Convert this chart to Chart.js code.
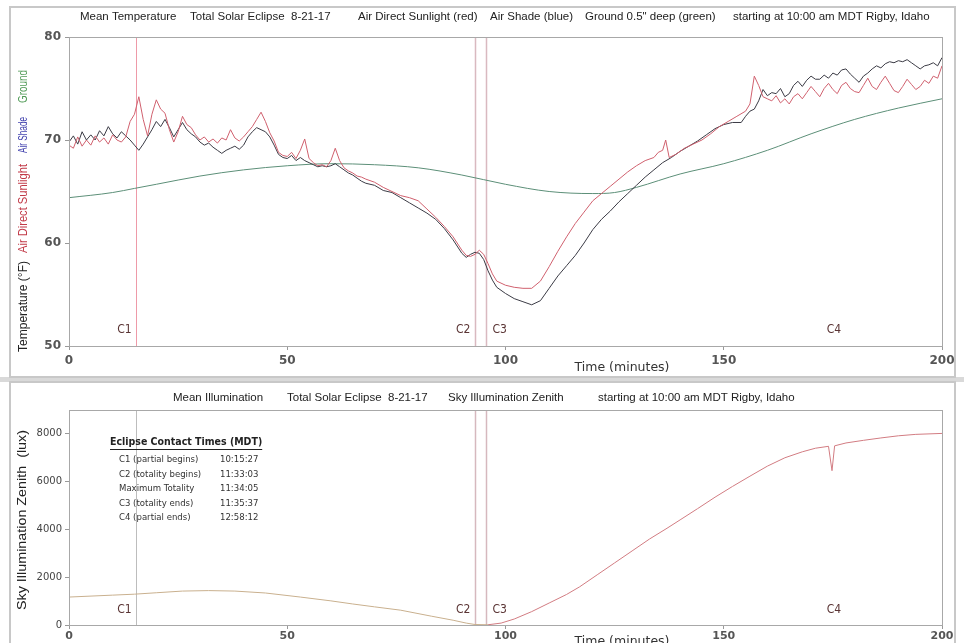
<!DOCTYPE html>
<html><head><meta charset="utf-8">
<script src="https://cdn.jsdelivr.net/npm/chart.js@4.4.0/dist/chart.umd.min.js"></script>
<style>
html,body{margin:0;padding:0;background:#fff;width:964px;height:643px;overflow:hidden;position:relative;}
.frame{position:absolute;border:2px solid #c8c8c8;box-sizing:border-box;background:#fff;}
.band{position:absolute;left:0;width:964px;background:#d9d9d9;}
canvas{position:absolute;left:0;}
</style></head><body>
<div class="band" style="top:377px;height:5px"></div>
<div class="frame" style="left:9px;top:6px;width:947px;height:372px"></div>
<div class="frame" style="left:9px;top:381px;width:947px;height:270px"></div>
<canvas id="top" width="964" height="380" style="top:0"></canvas>
<canvas id="bot" width="964" height="263" style="top:380px"></canvas>
<script>
// ---------- DATA ----------
const xTicks = [0, 50, 100, 150, 200];
const tempTicks = [50, 60, 70, 80];
const luxTicks = [0, 2000, 4000, 6000, 8000];

const contactLabels = ['C1', 'C2', 'C3', 'C4'];
const contactTimes = [15.45, 93.05, 95.62, 178.2];

const sunTime = [0,1,2,3,4,5,6,7,8,9,10,11,12,13,14,15,16,17,18,19,20,21,22,23,24,25,26,27,28,29,30,31,32,33,34,35,36,37,38,39,40,41,42,43,44,45,46,47,48,49,50,51,52,53,54,55,56,57,58,59,60,61,62,63,64,65,66,67,68,
 70,72,74,76,78,80,82,84,86,88,90,
 91,92,93,94,95,96,97,98,
 100,102,104,106,108,110,112,114,116,118,120,122,124,126,128,130,132,134,
 135,136,136.7,137.5,139,141,143,145,147,149,151,153,155,
 156,157,158,159,160,161,162,163,164,165,166,167,168,169,170,171,172,173,174,175,176,177,178,179,180,181,182,183,184,185,186,187,188,189,190,191,192,193,194,195,196,197,198,199,200];
const sunTemp = [69.5,69.2,70.3,69.4,70.0,69.5,70.4,69.8,70.2,69.6,70.5,70.0,69.8,70.3,71.8,72.5,74.2,72.0,70.4,72.5,73.9,73.0,72.6,71.0,69.8,70.8,72.3,71.5,71.2,70.5,70.0,70.3,69.8,70.1,69.7,70.2,70.0,71.0,70.2,69.9,70.3,70.8,71.3,72.0,72.7,71.8,70.7,69.9,68.8,68.5,68.4,68.8,68.2,69.0,70.1,68.2,67.8,67.5,67.6,67.4,68.0,69.2,68.0,67.3,67.0,66.8,66.5,66.4,66.2,
 65.9,65.4,65.0,64.6,64.4,64.1,63.3,62.5,61.6,60.6,59.3,
 58.8,58.7,58.9,59.3,58.9,58.0,57.0,56.3,
 55.9,55.7,55.6,55.6,56.3,57.7,59.2,60.6,61.9,63.0,64.1,64.8,65.5,66.2,66.9,67.5,68.0,68.3,
 68.8,69.0,70.0,68.3,68.6,69.2,69.6,70.0,70.6,71.3,71.8,72.3,72.8,
 73.5,76.2,75.3,74.2,74.0,73.8,74.3,73.6,74.0,73.5,74.2,74.5,74.0,74.6,75.2,74.7,74.2,75.0,75.5,74.9,74.5,75.3,75.6,75.0,74.7,74.6,75.3,76.0,75.2,74.9,75.6,76.2,75.5,74.8,74.6,75.2,75.9,75.4,74.9,75.2,75.8,75.5,76.2,76.0,77.2];

const shadeTime = [0,1,2,3,4,5,6,7,8,9,10,11,12,13,14,15,16,17,18,19,20,21,22,23,24,25,26,27,28,29,30,31,32,33,34,35,36,37,38,39,40,41,42,43,44,45,46,47,48,49,50,51,52,53,54,55,56,57,58,59,60,61,62,63,64,65,66,67,68,
 70,72,74,76,78,80,82,84,86,88,90,
 91,92,93,94,95,96,97,98,
 100,102,104,106,108,110,112,114,116,118,120,122,124,126,128,130,132,134,136,138,140,142,144,146,148,150,152,154,
 155,156,157,158,159,160,161,162,163,164,165,166,167,168,169,170,171,172,173,174,175,176,177,178,179,180,181,182,183,184,185,186,187,188,189,190,191,192,193,194,195,196,197,198,199,200];
const shadeTemp = [69.8,70.4,69.6,70.8,70.0,70.5,70.0,70.9,70.4,71.3,70.6,70.2,70.8,70.4,70.0,69.5,69.0,69.6,70.3,71.0,71.8,71.3,72.0,71.2,70.3,71.0,71.7,71.0,70.6,70.3,69.8,69.5,69.7,69.3,69.0,68.7,69.0,69.2,69.4,69.1,69.5,70.3,70.8,71.2,71.0,70.8,70.3,69.5,68.6,68.3,68.2,68.5,68.0,68.3,68.0,67.8,67.6,67.4,67.5,67.4,67.5,67.7,67.4,67.1,66.8,66.6,66.3,66.0,65.8,
 65.6,65.1,64.9,64.4,63.9,63.4,62.9,62.3,61.4,60.3,59.0,
 58.6,58.9,59.1,59.0,58.4,57.3,56.4,55.7,
 55.1,54.6,54.3,54.0,54.4,55.6,56.8,57.8,58.8,60.0,61.3,62.3,63.1,64.0,64.8,65.6,66.4,67.1,67.8,68.3,68.9,69.4,69.9,70.5,71.1,71.5,71.7,71.7,
 72.3,72.8,73.0,73.8,74.9,74.3,74.6,74.5,75.0,74.2,74.5,75.3,75.7,75.2,75.8,76.2,75.9,75.9,76.3,76.0,76.5,76.3,76.8,76.9,76.4,76.0,75.6,76.2,76.5,76.9,77.2,77.0,77.4,77.6,77.5,77.7,77.6,77.8,77.5,77.2,76.9,77.2,77.3,77.5,77.2,78.0];

const groundTime = [0,10,15,20,30,40,50,60,70,80,90,100,110,120,125,130,140,150,160,170,180,190,200];
const groundTemp = [64.4,64.9,65.3,65.7,66.5,67.1,67.5,67.7,67.6,67.3,66.6,65.7,65.0,64.8,64.9,65.4,66.7,67.7,69.0,70.6,72.0,73.1,74.0];

const luxTime = [0,10,15,20,26,32,38,45,53,60,65,70,76,83,88,91,93,96,99,102,106,110,114,117,121,125,129,133,137,140,144,148,152,156,160,164,168,171,174,174.8,175.4,178,182,186,190,194,200];
const luxValue = [1170,1250,1290,1350,1420,1440,1420,1340,1170,1010,880,760,620,370,200,80,20,10,80,250,560,920,1280,1600,2100,2600,3100,3600,4050,4400,4870,5350,5800,6230,6650,7000,7250,7400,7480,6460,7500,7620,7730,7830,7920,7980,8020];

const contactTable = [
  ['C1 (partial begins)', '10:15:27'],
  ['C2 (totality begins)', '11:33:03'],
  ['Maximum Totality', '11:34:05'],
  ['C3 (totality ends)', '11:35:37'],
  ['C4 (partial ends)', '12:58:12']
];

const topTitleParts = ['Mean Temperature', 'Total Solar Eclipse  8-21-17', 'Air Direct Sunlight (red)', 'Air Shade (blue)', 'Ground 0.5" deep (green)', 'starting at 10:00 am MDT Rigby, Idaho'];
const botTitleParts = ['Mean Illumination', 'Total Solar Eclipse  8-21-17', 'Sky Illumination Zenith', 'starting at 10:00 am MDT Rigby, Idaho'];

// ---------- HELPERS ----------
function zip(xs, ys) { const n = Math.min(xs.length, ys.length); const o = []; for (let i = 0; i < n; i++) o.push({x: xs[i], y: ys[i]}); return o; }
function txt(ctx, s, x, y, font, color, align) {
  ctx.save(); ctx.font = font; ctx.fillStyle = color; ctx.textAlign = align || 'left'; ctx.textBaseline = 'middle';
  ctx.fillText(s, x, y); ctx.restore();
}
// rotated text squeezed/stretched to span [y0, y1] (page coords within canvas)
function rotFit(ctx, s, cx, y0, y1, font, color) {
  ctx.save(); ctx.font = font;
  const w = ctx.measureText(s).width, span = y1 - y0;
  ctx.translate(cx, (y0 + y1) / 2); ctx.rotate(-Math.PI / 2); ctx.scale(span / w, 1);
  ctx.fillStyle = color; ctx.textAlign = 'center'; ctx.textBaseline = 'middle';
  ctx.fillText(s, 0, 0); ctx.restore();
}
const FONT = '"Liberation Sans", Arial, sans-serif';
const TICKFONT = {family: '"DejaVu Sans", Verdana, sans-serif', size: 12, weight: 'bold'};
const plainTick = v => String(v);

function vlines(chart, colors) {
  const ctx = chart.ctx, xs = chart.scales.x, a = chart.chartArea;
  ctx.save();
  for (let i = 0; i < 3; i++) {
    const px = Math.round(xs.getPixelForValue(contactTimes[i])) + 0.5;
    ctx.strokeStyle = colors[i]; ctx.lineWidth = i === 0 ? 1 : 1.5;
    ctx.beginPath(); ctx.moveTo(px, a.top); ctx.lineTo(px, a.bottom); ctx.stroke();
  }
  ctx.restore();
}
function cLabels(chart, y) {
  const xs = chart.scales.x;
  const offs = [-12, -12, 6, -13];
  contactLabels.forEach((l, i) => {
    const px = xs.getPixelForValue(contactTimes[i]) + offs[i];
    txt(chart.ctx, l, px, y, '12px "DejaVu Sans Condensed", "DejaVu Sans", sans-serif', '#5a3434', i === 2 ? 'left' : 'center');
  });
}
function box(chart) {
  const ctx = chart.ctx, a = chart.chartArea;
  ctx.save(); ctx.strokeStyle = '#a8a8a8'; ctx.lineWidth = 1;
  ctx.strokeRect(a.left + 0.5, a.top + 0.5, a.right - a.left, a.bottom - a.top); ctx.restore();
}

const topPlugin = {
  id: 'topDeco',
  beforeDatasetsDraw(chart) { vlines(chart, ['#ee9aa8', '#d9b9c0', '#d9b9c0']); },
  afterDraw(chart) {
    const ctx = chart.ctx;
    box(chart);
    const tx = [80, 190, 358, 490, 585, 733];
    topTitleParts.forEach((s, i) => txt(ctx, s, tx[i], 17, '11.5px ' + FONT, '#222'));
    // rotated multi-colored y title
    rotFit(ctx, 'Temperature (\u00B0F)', 24, 261, 352, '12px ' + FONT, '#222');
    rotFit(ctx, 'Air Direct Sunlight', 24, 164, 253, '12px ' + FONT, '#c23a48');
    rotFit(ctx, 'Air Shade', 24, 117, 153, '12px ' + FONT, '#4646b0');
    rotFit(ctx, 'Ground', 24, 70, 103, '12px ' + FONT, '#4f9a55');
    txt(ctx, 'Time (minutes)', 622, 368, '12.5px "DejaVu Sans", sans-serif', '#333', 'center');
    cLabels(chart, 330);
  }
};

const botPlugin = {
  id: 'botDeco',
  beforeDatasetsDraw(chart) { vlines(chart, ['#bdbdbd', '#d6b8be', '#d6b8be']); },
  afterDraw(chart) {
    const ctx = chart.ctx;
    box(chart);
    const tx = [173, 287, 448, 598];
    botTitleParts.forEach((s, i) => txt(ctx, s, tx[i], 18, '11.5px ' + FONT, '#222'));
    rotFit(ctx, 'Sky Illumination Zenith  (lux)', 23, 50, 230, '12px ' + FONT, '#222');
    txt(ctx, 'Time (minutes)', 622, 262, '12.5px "DejaVu Sans", sans-serif', '#333', 'center');
    cLabels(chart, 230);
    // contact table
    const tf = 'bold 10.5px "DejaVu Sans Condensed", "DejaVu Sans", sans-serif';
    txt(ctx, 'Eclipse Contact Times (MDT)', 110, 62, tf, '#222');
    ctx.save(); ctx.font = tf; const w = ctx.measureText('Eclipse Contact Times (MDT)').width;
    ctx.strokeStyle = '#222'; ctx.lineWidth = 1; ctx.beginPath(); ctx.moveTo(110, 69.5); ctx.lineTo(110 + w, 69.5); ctx.stroke(); ctx.restore();
    const rf = '9.5px "DejaVu Sans Condensed", "DejaVu Sans", sans-serif';
    contactTable.forEach((r, i) => {
      const y = 80 + i * 14.5;
      txt(ctx, r[0], 119, y, rf, '#333');
      txt(ctx, r[1], 220, y, rf, '#333');
    });
  }
};

const common = {
  responsive: false, animation: false, devicePixelRatio: 1,
  plugins: {legend: {display: false}, tooltip: {enabled: false}, title: {display: false}},
  elements: {point: {radius: 0}, line: {borderWidth: 1, tension: 0}}
};

new Chart(document.getElementById('top'), {
  type: 'line',
  data: {datasets: [
    {label: 'Air Direct Sunlight', data: zip(sunTime, sunTemp), borderColor: '#d0606e', borderWidth: 1, pointRadius: 0},
    {label: 'Air Shade', data: zip(shadeTime, shadeTemp), borderColor: '#3b3b45', borderWidth: 1, pointRadius: 0},
    {label: 'Ground', data: zip(groundTime, groundTemp), borderColor: '#5c8f78', borderWidth: 1, pointRadius: 0, cubicInterpolationMode: 'monotone'}
  ]},
  options: Object.assign({}, common, {
    layout: {padding: {left: 0, right: 22, top: 37, bottom: 0}},
    scales: {
      x: {type: 'linear', min: 0, max: 200,
        afterBuildTicks: s => { s.ticks = xTicks.map(v => ({value: v})); },
        afterFit: s => { s.height = 34; },
        grid: {drawOnChartArea: false, drawTicks: true, tickLength: 4, color: '#999'},
        border: {display: true, color: '#a8a8a8'},
        ticks: {font: TICKFONT, color: '#555', padding: 4, maxRotation: 0, callback: plainTick}},
      y: {type: 'linear', min: 50, max: 80,
        afterBuildTicks: s => { s.ticks = tempTicks.map(v => ({value: v})); },
        afterFit: s => { s.width = 69; },
        grid: {drawOnChartArea: false, drawTicks: true, tickLength: 4, color: '#999'},
        border: {display: true, color: '#a8a8a8'},
        ticks: {font: TICKFONT, color: '#555', padding: 4, callback: plainTick}}
    }
  }),
  plugins: [topPlugin]
});

new Chart(document.getElementById('bot'), {
  type: 'line',
  data: {datasets: [
    {label: 'Sky Illumination Zenith', data: zip(luxTime, luxValue), borderWidth: 1, pointRadius: 0,
      borderColor: '#d07a80',
      segment: {borderColor: c => c.p0.parsed.x < 96 ? '#c9b08e' : '#d27c82'}}
  ]},
  options: Object.assign({}, common, {
    layout: {padding: {left: 0, right: 22, top: 30, bottom: 0}},
    scales: {
      x: {type: 'linear', min: 0, max: 200,
        afterBuildTicks: s => { s.ticks = xTicks.map(v => ({value: v})); },
        afterFit: s => { s.height = 18; },
        grid: {drawOnChartArea: false, drawTicks: true, tickLength: 4, color: '#999'},
        border: {display: true, color: '#a8a8a8'},
        ticks: {font: {family: '"DejaVu Sans", sans-serif', size: 11, weight: 'bold'}, color: '#555', padding: 1, maxRotation: 0, callback: plainTick}},
      y: {type: 'linear', min: 0, max: 9000,
        afterBuildTicks: s => { s.ticks = luxTicks.map(v => ({value: v})); },
        afterFit: s => { s.width = 69; },
        grid: {drawOnChartArea: false, drawTicks: true, tickLength: 4, color: '#999'},
        border: {display: true, color: '#a8a8a8'},
        ticks: {font: {family: '"DejaVu Sans", sans-serif', size: 10}, color: '#444', padding: 3, callback: plainTick}}
    }
  }),
  plugins: [botPlugin]
});
</script>
</body></html>
